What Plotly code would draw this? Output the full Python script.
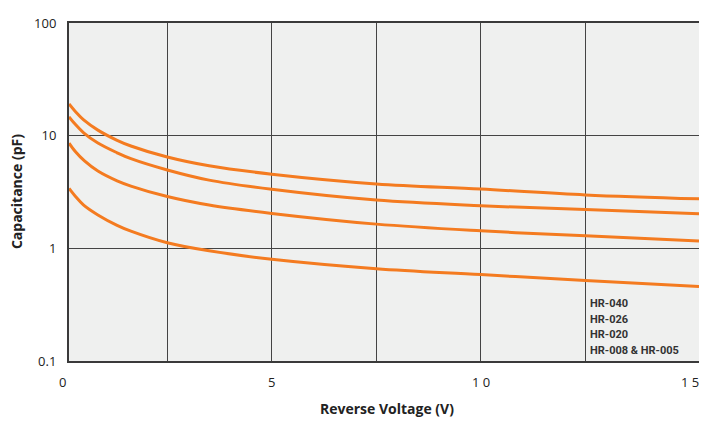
import plotly.graph_objects as go

# Reverse voltage (V) / capacitance (pF) points
v_hr040 = [0.15, 0.3, 0.5, 0.84, 1.3, 1.63, 2.5, 3.5, 5, 7.5, 10, 12.5, 15.22]
c_hr040 = [19.1, 16.4, 13.8, 11.2, 9.1, 8.1, 6.46, 5.4, 4.55, 3.73, 3.36, 2.98, 2.75]

v_hr026 = [0.15, 0.3, 0.5, 0.84, 1.3, 1.63, 2.5, 3.5, 5, 7.5, 10, 12.5, 15.22]
c_hr026 = [14.7, 12.6, 10.6, 8.6, 7.05, 6.25, 4.96, 4.03, 3.34, 2.68, 2.39, 2.21, 2.03]

v_hr020 = [0.15, 0.3, 0.52, 0.84, 1.3, 1.63, 2.5, 3.5, 5, 7.5, 10, 12.5, 15.22]
c_hr020 = [8.59, 7.23, 5.96, 4.85, 3.97, 3.57, 2.88, 2.42, 2.04, 1.64, 1.43, 1.29, 1.16]

v_hr008 = [0.15, 0.3, 0.5, 0.84, 1.3, 1.63, 2.5, 3.5, 5, 7.5, 10, 12.5, 15.22]
c_hr008 = [3.40, 2.9, 2.42, 1.98, 1.60, 1.42, 1.12, 0.95, 0.80, 0.66, 0.585, 0.517, 0.458]

legend_labels = ["HR-040", "HR-026", "HR-020", "HR-008 & HR-005"]
x_tick_vals = [0, 5, 10, 15]
x_tick_text = ["0", "5", "1 0", "1 5"]
x_grid_vals = [2.5, 5, 7.5, 10, 12.5]
y_tick_vals = [0.1, 1, 10, 100]
y_tick_text = ["0.1", "1", "10", "100"]

X0, X1 = 0.149, 15.22
ORANGE = "#f47b20"
FONT = "Open Sans"

# page offset from default body margin
OFF = 8
W, H = 707 - OFF, 423 - OFF
ML, MR, MT, MB = 61, 7, 6, 62
PL = OFF + ML                 # plot-area left in page pixels
PW = W - ML - MR              # plot-area width
PT = OFF + MT                 # plot-area top in page pixels
PH = H - MT - MB              # plot-area height


def px(xp):
    return (xp - PL) / PW


def py(yp):
    return (PT + PH - yp) / PH


fig = go.Figure()
for vx, cy in [(v_hr040, c_hr040), (v_hr026, c_hr026), (v_hr020, c_hr020), (v_hr008, c_hr008)]:
    fig.add_trace(go.Scatter(x=vx, y=cy, mode="lines",
                             line=dict(color=ORANGE, width=3, shape="spline", smoothing=1.0),
                             showlegend=False, hoverinfo="skip"))

annotations = []
for xv, xt in zip(x_tick_vals, x_tick_text):
    annotations.append(dict(x=(xv - X0) / (X1 - X0), y=0, xref="paper", yref="paper",
                            text=xt, showarrow=False, xanchor="center", yanchor="top",
                            yshift=-10, font=dict(family=FONT, size=13, color="#222")))
annotations.append(dict(x=px(388), y=py(410), xref="paper", yref="paper",
                        text="Reverse Voltage (V)", showarrow=False, xanchor="center", yanchor="middle",
                        font=dict(family=FONT, size=14, color="#222", weight="bold")))
annotations.append(dict(x=px(16), y=0.5, xref="paper", yref="paper",
                        text="Capacitance (pF)", showarrow=False, textangle=-90,
                        xanchor="center", yanchor="middle",
                        font=dict(family=FONT, size=14, color="#222", weight="bold")))
for i, lab in enumerate(legend_labels):
    annotations.append(dict(x=px(589), y=py(302 + 16 * i), xref="paper", yref="paper",
                            text=lab, showarrow=False, xanchor="left", yanchor="middle",
                            font=dict(family="Roboto", size=11, color="#333", weight="bold")))

fig.update_layout(
    width=W, height=H,
    margin=dict(l=ML, r=MR, t=MT, b=MB),
    paper_bgcolor="white", plot_bgcolor="#eff0ef",
    annotations=annotations,
    font=dict(family=FONT, size=13, color="#222"),
)
fig.update_xaxes(range=[X0, X1], tickmode="array", tickvals=x_grid_vals,
                 showticklabels=False, ticks="", showgrid=True, gridcolor="#444", gridwidth=1,
                 showline=True, linecolor="#3a3a3a", linewidth=2, mirror=True, zeroline=False)
fig.update_yaxes(type="log", range=[-1, 2], tickmode="array", tickvals=y_tick_vals,
                 ticktext=y_tick_text, ticks="", ticklabelstandoff=8, ticklabeloverflow="allow",
                 showgrid=True, gridcolor="#444", gridwidth=1,
                 showline=True, linecolor="#3a3a3a", linewidth=2, mirror=True, zeroline=False,
                 tickfont=dict(family=FONT, size=13, color="#222"))

fig.write_html("out.html")
